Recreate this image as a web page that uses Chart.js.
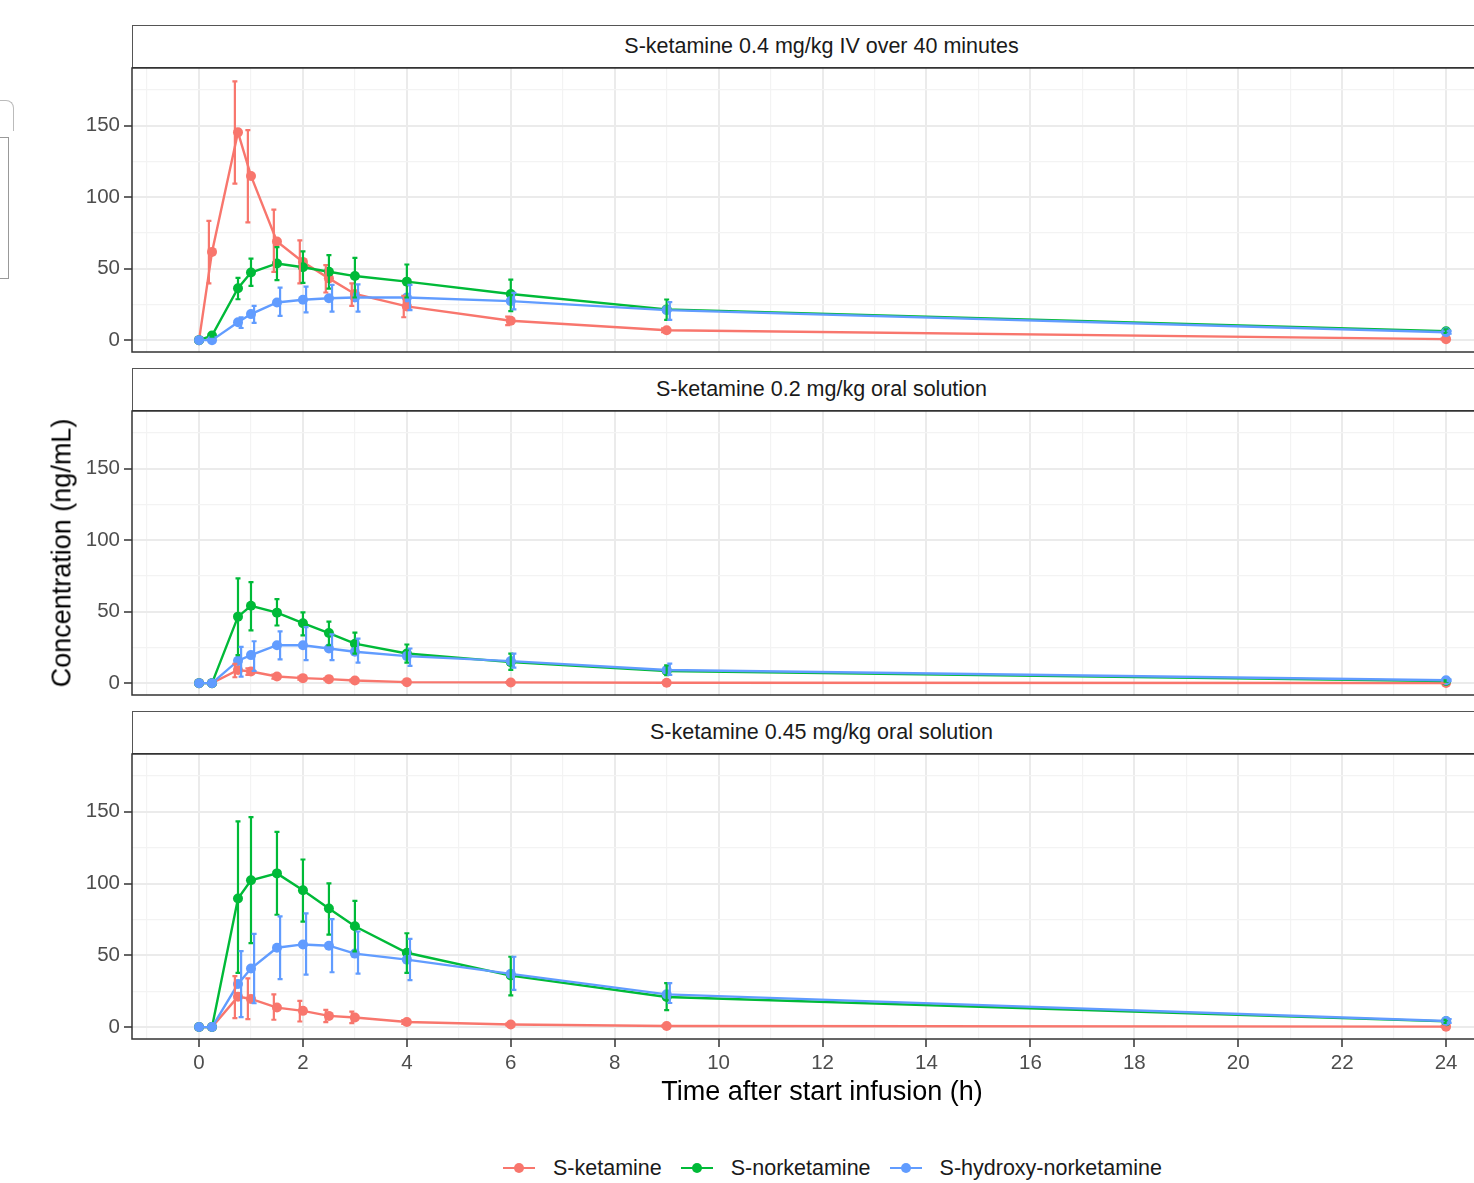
<!DOCTYPE html>
<html><head><meta charset="utf-8">
<script src="https://cdn.jsdelivr.net/npm/chart.js@4.4.0/dist/chart.umd.min.js"></script>
<style>
html,body{margin:0;padding:0;background:#fff;overflow:hidden;width:1474px;height:1183px;}
body{position:relative;font-family:"Liberation Sans",Arial,sans-serif;}
.strip{position:absolute;left:132px;width:1379px;height:43px;box-sizing:border-box;border:1.5px solid #555;border-bottom:1.5px solid #333;background:#fff;display:flex;align-items:center;justify-content:center;font-size:21.5px;color:#1a1a1a;}
canvas{position:absolute;left:0;}
.title{position:absolute;white-space:nowrap;font-size:27px;color:#000;transform:translate(-50%,-50%);}
#legend{position:absolute;left:503px;top:1154px;height:28px;display:flex;align-items:center;font-size:21.5px;color:#1a1a1a;white-space:nowrap;}
.key{position:relative;display:inline-block;width:32px;height:28px;}
.key i{position:absolute;left:0;top:13px;width:32px;height:2.4px;}
.key b{position:absolute;left:11px;top:9px;width:10px;height:10px;border-radius:50%;}
.lab{margin-left:18px;margin-right:19px;}
</style></head>
<body>
<div style="position:absolute;left:-12px;top:137px;width:19px;height:140px;border:1px solid #999;"></div>
<div style="position:absolute;left:-12px;top:100px;width:25px;height:30px;border-top:1px solid #bbb;border-right:1px solid #bbb;border-top-right-radius:8px;"></div>

<div class="strip" style="top:25px">S-ketamine 0.4 mg/kg IV over 40 minutes</div>
<div class="strip" style="top:368px">S-ketamine 0.2 mg/kg oral solution</div>
<div class="strip" style="top:711px">S-ketamine 0.45 mg/kg oral solution</div>
<canvas id="c1"></canvas>
<canvas id="c2"></canvas>
<canvas id="c3"></canvas>
<div class="title" style="left:62px;top:553px;transform:translate(-50%,-50%) rotate(-90deg);">Concentration (ng/mL)</div>
<div class="title" style="left:822px;top:1091px;">Time after start infusion (h)</div>
<div id="legend"></div>

<script>
// ---- data ----
const times = [0, 0.25, 0.75, 1, 1.5, 2, 2.5, 3, 4, 6, 9, 24];
const seriesNames = ['S-ketamine', 'S-norketamine', 'S-hydroxy-norketamine'];
const seriesColors = ['#F8766D', '#00BA38', '#619CFF'];
const panelTitles = ['S-ketamine 0.4 mg/kg IV over 40 minutes', 'S-ketamine 0.2 mg/kg oral solution', 'S-ketamine 0.45 mg/kg oral solution'];
const xTickLabels = [0, 2, 4, 6, 8, 10, 12, 14, 16, 18, 20, 22, 24];
const yTickLabels = [0, 50, 100, 150];

// Panel 1: IV 0.4 mg/kg
const ivKet   = [0, 61.7, 145.3, 114.8, 69, 54.7, 43.2, 32.3, 23.6, 13.6, 6.9, 0.7];
const ivKetLo = [0, 39.7, 109.5, 82.4, 47.8, 39.7, 33.3, 24, 16, 10.5, 5.5, 0.3];
const ivKetHi = [0, 83.4, 181, 146.9, 91.2, 69.7, 52.4, 39.7, 31, 16.5, 8.2, 1.1];
const ivNor   = [0, 3.2, 36.3, 47.3, 53.6, 51, 47.8, 44.8, 40.9, 32.3, 21.5, 6.2];
const ivNorLo = [0, 2.5, 28.6, 38, 42, 40, 36, 29.8, 29.8, 20.3, 14.1, 5];
const ivNorHi = [0, 4, 43.6, 57, 65, 62, 59.4, 57.5, 52.9, 42.3, 28.4, 7.5];
const ivHyd   = [0, 0, 12.5, 18.2, 26.3, 28.2, 29.3, 29.8, 29.8, 27.3, 21, 5.5];
const ivHydLo = [0, 0, 8.5, 12, 17, 19.4, 20, 20, 21, 21.5, 14.1, 4.5];
const ivHydHi = [0, 0, 16, 24, 36.7, 37.4, 38.6, 39, 38.6, 33, 26.6, 6.5];

// Panel 2: oral 0.2 mg/kg
const loKet   = [0, 0, 9.2, 8.1, 4.6, 3.5, 2.8, 1.8, 0.7, 0.5, 0.3, 0.1];
const loKetLo = [0, 0, 4.1, 5.8, 3.2, 2.5, 2, 1.2, 0.4, 0.3, 0.2, 0];
const loKetHi = [0, 0, 13.4, 10.4, 6, 4.5, 3.6, 2.4, 1, 0.7, 0.4, 0.2];
const loNor   = [0, 0, 46.5, 54.1, 49.3, 41.9, 35, 27.6, 20.7, 14.7, 8.5, 1.5];
const loNorLo = [0, 0, 19.6, 36.9, 40.3, 33.4, 26.5, 20.7, 14.3, 9.2, 5.5, 1];
const loNorHi = [0, 0, 73.3, 70.7, 58.8, 49.5, 43, 35.3, 27, 20.7, 12.4, 2];
const loHyd   = [0, 0, 15.7, 19.6, 26.5, 26.5, 24.2, 21.9, 18.9, 15.4, 9.2, 2];
const loHydLo = [0, 0, 4.6, 8.5, 16.6, 16.1, 16.1, 14.3, 12, 10.8, 5.8, 1.5];
const loHydHi = [0, 0, 25.3, 29.3, 36.2, 39.2, 34.1, 31.1, 24.2, 20.7, 13.6, 2.5];

// Panel 3: oral 0.45 mg/kg
const hiKet   = [0, 0, 21.2, 19.6, 13.6, 11.3, 7.8, 6.7, 3.5, 1.8, 0.8, 0.3];
const hiKetLo = [0, 0, 6.2, 5.5, 5.1, 3.9, 3.5, 2.8, 2.2, 1.2, 0.5, 0.1];
const hiKetHi = [0, 0, 35.5, 33.9, 22.8, 18.2, 12, 10.8, 4.8, 2.4, 1.1, 0.5];
const hiNor   = [0, 0, 89.6, 102.3, 107.1, 95.4, 82.7, 70.3, 51.8, 35.9, 21, 4];
const hiNorLo = [0, 0, 37.8, 58.5, 78.3, 73.5, 64.5, 52.8, 37.8, 22.1, 11.8, 3];
const hiNorHi = [0, 0, 143.3, 146.3, 136, 116.8, 100.2, 88, 65.4, 49, 30.6, 5];
const hiHyd   = [0, 0, 30, 40.8, 55.3, 57.6, 56.7, 51.2, 47, 37.1, 22.8, 4.2];
const hiHydLo = [0, 0, 6.9, 16.6, 33.4, 36.6, 38.2, 37.3, 32.7, 26, 16.8, 3];
const hiHydHi = [0, 0, 53, 65, 77.2, 79.3, 75.3, 66.6, 61.5, 49, 30.6, 5.5];

// ---- layout / style ----
const FONT = '"Liberation Sans", Arial, sans-serif';
const dodge = [-0.06, 0, 0.06];
const X_MIN = -1.29, X_MAX = 25.25, Y_MIN = -8.3, Y_MAX = 190.3;
const PLOT_H = 286;
const panelTops = [67, 410, 753];

const errorBarPlugin = {
  id: 'errbars',
  afterDatasetsDraw(chart) {
    const ctx = chart.ctx, xs = chart.scales.x, ys = chart.scales.y;
    const ca = chart.chartArea;
    ctx.save();
    ctx.beginPath(); ctx.rect(ca.left, ca.top, ca.right - ca.left, ca.bottom - ca.top); ctx.clip();
    chart.data.datasets.forEach((ds) => {
      ctx.strokeStyle = ds.borderColor; ctx.lineWidth = 2.2;
      ds.times.forEach((t, i) => {
        const lo = ds.lo[i], hi = ds.hi[i];
        if (hi - lo < 0.05) return;
        const px = xs.getPixelForValue(t + ds.dodge);
        const y1 = ys.getPixelForValue(lo), y2 = ys.getPixelForValue(hi);
        ctx.beginPath();
        ctx.moveTo(px, y1); ctx.lineTo(px, y2);
        ctx.moveTo(px - 2.5, y1); ctx.lineTo(px + 2.5, y1);
        ctx.moveTo(px - 2.5, y2); ctx.lineTo(px + 2.5, y2);
        ctx.stroke();
      });
    });
    ctx.restore();
  },
  afterDraw(chart) {
    const ctx = chart.ctx, ca = chart.chartArea;
    ctx.save();
    ctx.strokeStyle = '#333'; ctx.lineWidth = 1.5;
    ctx.strokeRect(ca.left, ca.top, ca.right - ca.left, ca.bottom - ca.top);
    ctx.restore();
  }
};

function zeroPad(s) { s.paddingTop = 0; s.paddingBottom = 0; s.paddingLeft = 0; s.paddingRight = 0; }

function makePanel(id, top, groups, showX) {
  const cv = document.getElementById(id);
  const axisH = showX ? 60 : 0;
  cv.width = 1520; cv.height = PLOT_H + 4 + (showX ? axisH : 4);
  cv.style.width = cv.width + 'px'; cv.style.height = cv.height + 'px';
  cv.style.top = (top - 4) + 'px';
  const datasets = groups.map((g, k) => ({
    label: seriesNames[k],
    data: times.map((t, i) => ({ x: t, y: g[0][i] })),
    times: times, lo: g[1], hi: g[2], dodge: dodge[k],
    borderColor: seriesColors[k], backgroundColor: seriesColors[k],
    pointBackgroundColor: seriesColors[k], pointBorderWidth: 0,
    pointRadius: 5, borderWidth: 2.4, tension: 0, order: 3 - k
  }));
  const xGrid = []; for (let v = -1; v <= 25; v++) xGrid.push(v);
  const yGrid = [0, 25, 50, 75, 100, 125, 150, 175];
  return new Chart(cv, {
    type: 'line',
    data: { datasets },
    plugins: [errorBarPlugin],
    options: {
      responsive: false, animation: false, devicePixelRatio: 1,
      layout: { padding: { top: 4, bottom: showX ? 0 : 4, left: 0, right: 9 } },
      plugins: { legend: { display: false }, tooltip: { enabled: false } },
      scales: {
        x: {
          type: 'linear', min: X_MIN, max: X_MAX,
          afterBuildTicks: s => { s.ticks = xGrid.map(v => ({ value: v })); },
          afterFit: s => { s.height = axisH; zeroPad(s); },
          border: { display: false },
          grid: {
            color: c => (c.tick && c.tick.value % 2 === 0) ? '#EBEBEB' : '#F3F3F3',
            lineWidth: c => (c.tick && c.tick.value % 2 === 0) ? 2 : 1.2,
            drawTicks: showX, tickLength: 8, tickWidth: 1.5,
            tickColor: c => (c.tick && xTickLabels.includes(c.tick.value)) ? '#333' : 'rgba(0,0,0,0)'
          },
          ticks: {
            display: showX, autoSkip: false, maxRotation: 0, padding: 4,
            color: '#4D4D4D', font: { size: 20.5, family: FONT },
            callback: v => xTickLabels.includes(v) ? String(v) : ''
          }
        },
        y: {
          min: Y_MIN, max: Y_MAX,
          afterBuildTicks: s => { s.ticks = yGrid.map(v => ({ value: v })); },
          afterFit: s => { s.width = 132; zeroPad(s); },
          border: { display: false },
          grid: {
            color: c => (c.tick && c.tick.value % 50 === 0) ? '#EBEBEB' : '#F3F3F3',
            lineWidth: c => (c.tick && c.tick.value % 50 === 0) ? 2 : 1.2,
            drawTicks: true, tickLength: 8, tickWidth: 1.5,
            tickColor: c => (c.tick && yTickLabels.includes(c.tick.value)) ? '#333' : 'rgba(0,0,0,0)'
          },
          ticks: {
            autoSkip: false, padding: 4, color: '#4D4D4D', font: { size: 20.5, family: FONT },
            callback: v => yTickLabels.includes(v) ? String(v) : ''
          }
        }
      }
    }
  });
}

makePanel('c1', panelTops[0], [[ivKet, ivKetLo, ivKetHi], [ivNor, ivNorLo, ivNorHi], [ivHyd, ivHydLo, ivHydHi]], false);
makePanel('c2', panelTops[1], [[loKet, loKetLo, loKetHi], [loNor, loNorLo, loNorHi], [loHyd, loHydLo, loHydHi]], false);
makePanel('c3', panelTops[2], [[hiKet, hiKetLo, hiKetHi], [hiNor, hiNorLo, hiNorHi], [hiHyd, hiHydLo, hiHydHi]], true);

const leg = document.getElementById('legend');
seriesNames.forEach((n, k) => {
  const key = document.createElement('span'); key.className = 'key';
  key.innerHTML = '<i style="background:' + seriesColors[k] + '"></i><b style="background:' + seriesColors[k] + '"></b>';
  const lab = document.createElement('span'); lab.className = 'lab'; lab.textContent = n;
  leg.appendChild(key); leg.appendChild(lab);
});
</script>
</body></html>
